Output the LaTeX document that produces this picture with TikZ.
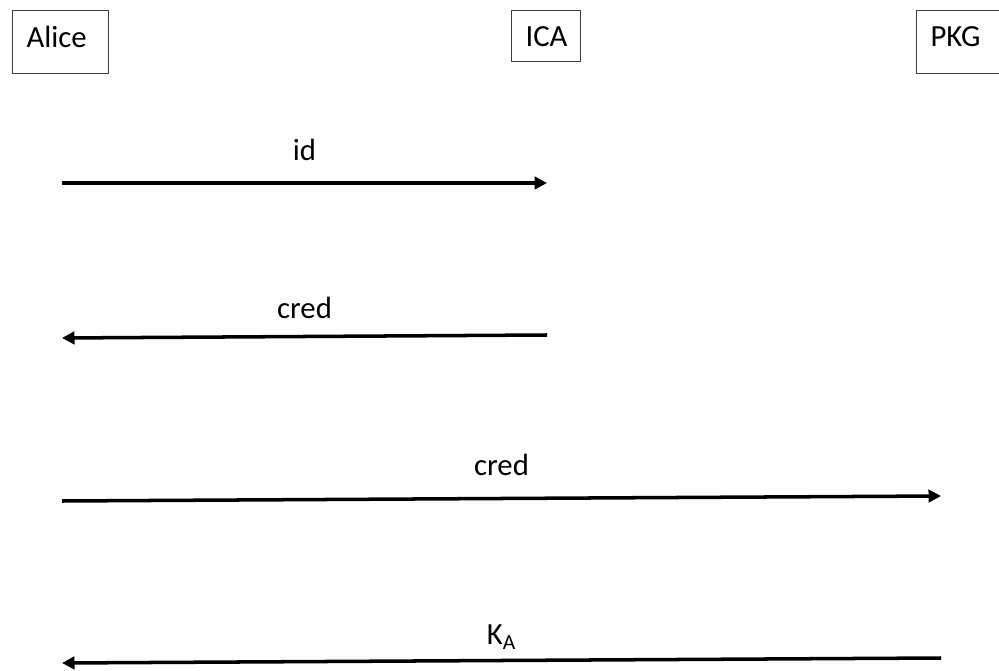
\documentclass[tikz,border=0pt]{standalone}
\usepackage{fontspec}
\setmainfont{Carlito}
\usetikzlibrary{arrows.meta}
\tikzset{
  party/.style={draw=black!75, line width=0.6pt, anchor=north west,
    inner xsep=0.28cm, inner ysep=0pt, align=left,
    font=\fontsize{17.5}{20}\selectfont},
  msg/.style={line width=2pt, -{Triangle[length=0.25cm, width=0.25cm]}},
  msgtext/.style={anchor=base, inner sep=0pt, font=\fontsize{17.5}{20}\selectfont}
}
\begin{document}
\begin{tikzpicture}[x=0.02cm, y=-0.02cm]
  \useasboundingbox (0,0) rectangle (999,671);

  % parties
  \node[party, text width=1.36cm, text height=0.74cm, text depth=0.52cm] (alice) at (12,10) {Alice};
  \node[party, text width=0.82cm, text height=0.72cm, text depth=0.30cm] (ica) at (511,10) {ICA};
  \node[party, text width=1.32cm, text height=0.72cm, text depth=0.54cm] (pkg) at (916,10) {PKG};

  % message end points
  \coordinate (idS) at (62,183);
  \coordinate (idE) at (547,183);
  \coordinate (credS) at (547,335);
  \coordinate (credE) at (62,338);
  \coordinate (fwdS) at (62,501);
  \coordinate (fwdE) at (941,496);
  \coordinate (keyS) at (941,658);
  \coordinate (keyE) at (62,663);

  % messages
  \draw[msg] (idS) -- node[msgtext, yshift=0.44cm] {id} (idE);
  \draw[msg] (credS) -- node[msgtext, yshift=0.37cm] {cred} (credE);
  \draw[msg] (fwdS) -- node[msgtext, yshift=0.47cm] {cred} (fwdE);
  \draw[msg] (keyS) -- node[msgtext, yshift=0.32cm] {K\textsubscript{A}} (keyE);
\end{tikzpicture}
\end{document}
